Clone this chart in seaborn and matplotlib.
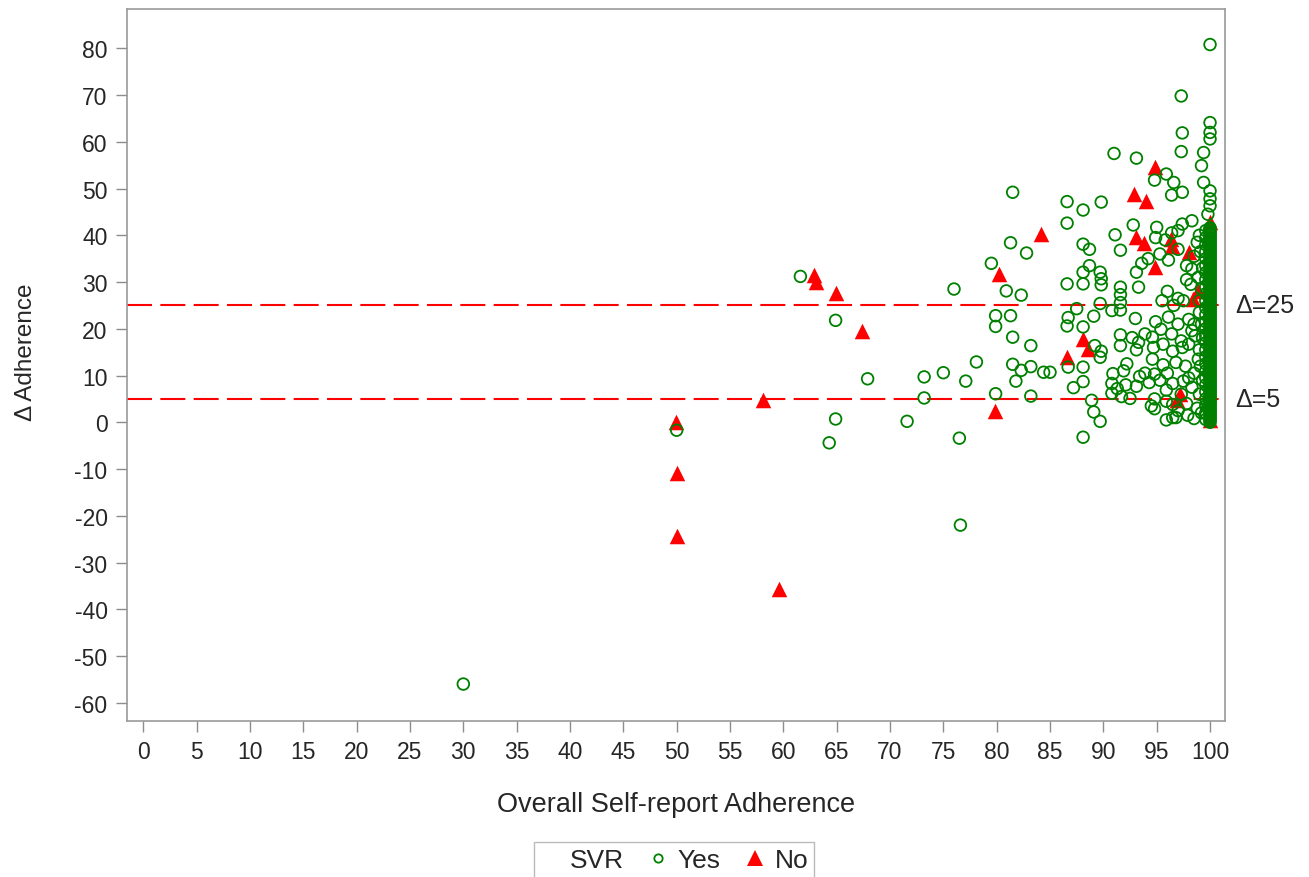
import matplotlib
matplotlib.use("Agg")
import pandas as pd
import seaborn as sns
import matplotlib.pyplot as plt
from matplotlib.lines import Line2D
from matplotlib.transforms import blended_transform_factory

GREEN = "#008000"
RED = "#ff0000"

# SVR = Yes (open circles)
yes_x = [30.0, 50.0, 61.6, 64.9, 64.9, 64.3, 67.9, 71.6, 73.2, 73.2, 75.0, 76.0,
         76.5, 76.6, 77.1, 78.1, 79.5, 80.9, 82.3, 79.9, 79.9, 81.3, 81.5, 83.2,
         81.5, 82.3, 83.2, 81.8, 84.4, 85.0, 79.9, 83.2, 81.5, 81.3, 82.8,
         86.6, 88.1, 89.8, 86.6, 91.0, 93.1, 92.8, 91.1, 88.1, 88.7, 91.6, 88.7,
         88.1, 89.7, 89.8, 93.1, 86.6, 88.1, 89.8, 91.6, 93.3, 91.6, 91.6, 91.6,
         87.5, 89.7, 86.7, 86.6, 89.1, 90.8, 88.1, 89.2, 89.8, 89.7, 91.6, 91.6,
         92.7, 93.3, 93.1, 86.7, 88.1, 87.2, 88.1, 88.9, 89.1, 89.7, 88.1, 92.2,
         90.8, 91.3, 92.1, 93.1, 91.7, 92.5, 90.8, 93.4, 90.9, 91.9,
         93.9, 94.3, 94.8, 95.3, 95.9, 96.5, 97.3, 95.9, 96.5, 94.8, 94.8, 94.5,
         95.9, 96.5, 97.0, 97.8, 98.3, 98.8, 98.5, 97.7, 96.8, 95.6, 94.6, 98.9,
         93.9, 94.6, 95.4, 96.4, 97.3, 94.7, 95.6, 96.5, 97.4, 98.0, 98.6, 99.0,
         98.5, 93.0, 94.9, 96.1, 97.0, 98.0, 98.3, 99.0, 96.0, 97.0, 95.5, 96.6,
         97.5, 98.2, 98.9, 97.8, 97.8, 98.3, 95.3, 96.1, 97.0, 94.9, 95.8, 96.4,
         97.0, 95.0, 97.4, 98.3, 98.8, 98.5, 99.0, 94.2, 93.6,
         99.2, 99.0, 99.3, 99.1, 99.3, 99.2, 99.0, 99.2, 99.3, 99.1, 98.0, 97.5,
         96.0, 97.9, 98.5, 96.8,
         95.9, 94.8, 96.6, 97.4, 96.4, 99.2, 99.4, 100.0, 100.0, 100.0, 99.4, 97.3,
         97.4, 97.3, 100.0, 100.0, 100.0, 100.0, 99.8]
yes_y = [-56.0, -1.7, 31.2, 21.8, 0.7, -4.4, 9.3, 0.2, 9.7, 5.2, 10.6, 28.5,
         -3.4, -22.0, 8.8, 12.9, 34.0, 28.1, 27.2, 22.8, 20.5, 22.8, 18.2, 16.4,
         12.4, 11.1, 11.9, 8.8, 10.7, 10.7, 6.1, 5.6, 49.2, 38.4, 36.2,
         47.2, 45.4, 47.1, 42.6, 57.5, 56.5, 42.2, 40.1, 38.1, 37.0, 36.8, 33.5,
         32.1, 32.1, 30.7, 32.1, 29.6, 29.6, 29.4, 28.9, 28.9, 27.3, 25.6, 24.0,
         24.3, 25.4, 22.4, 20.6, 22.7, 23.9, 20.4, 16.4, 15.2, 13.9, 18.7, 16.4,
         18.1, 17.1, 15.5, 11.8, 11.8, 7.4, 8.7, 4.7, 2.2, 0.2, -3.2, 12.5,
         8.3, 7.2, 8.0, 7.7, 5.5, 5.1, 6.2, 9.8, 10.4, 11.0,
         10.5, 8.5, 10.3, 9.0, 6.9, 8.3, 6.0, 4.5, 3.8, 5.0, 2.9, 3.5,
         0.5, 1.0, 2.5, 4.0, 7.5, 3.0, 10.5, 12.0, 12.8, 12.3, 13.5, 13.5,
         18.9, 18.2, 19.9, 18.9, 17.4, 16.0, 16.7, 15.2, 16.0, 16.7, 18.5, 15.5,
         21.0, 22.2, 21.5, 22.5, 21.0, 22.0, 19.6, 23.5, 28.0, 26.5, 26.0, 25.0,
         26.0, 29.5, 31.0, 30.5, 33.5, 32.8, 36.0, 34.7, 37.0, 39.5, 39.0, 40.5,
         41.0, 41.7, 42.4, 43.1, 38.5, 35.5, 40.0, 35.0, 34.0,
         2.0, 6.0, 9.0, 12.0, 18.0, 21.0, 26.0, 28.5, 33.0, 36.5, 9.5, 8.8,
         10.5, 1.5, 0.8, 1.0,
         53.1, 51.8, 51.3, 49.2, 48.6, 54.9, 51.3, 49.5, 47.8, 46.3, 57.7, 57.9,
         61.9, 69.8, 64.1, 62.0, 60.6, 80.8, 44.5]

# the solid stack of Yes patients at 100% self-report
col100_y = [0.0, 0.3, 0.7, 1.0, 1.4, 1.7, 2.1, 2.4, 2.8, 3.1, 3.5, 3.8, 4.2,
            4.5, 4.9, 5.2, 5.6, 5.9, 6.3, 6.6, 7.0, 7.3, 7.7, 8.0, 8.4, 8.7,
            9.1, 9.4, 9.8, 10.1, 10.5, 10.8, 11.2, 11.5, 11.9, 12.2, 12.6,
            12.9, 13.3, 13.6, 14.0, 14.3, 14.7, 15.0, 15.4, 15.7, 16.1, 16.4,
            16.8, 17.1, 17.5, 17.8, 18.2, 18.5, 18.9, 19.2, 19.6, 19.9, 20.3,
            20.6, 21.0, 21.3, 21.7, 22.0, 22.4, 22.7, 23.1, 23.4, 23.8, 24.1,
            24.5, 24.8, 25.2, 25.5, 25.9, 26.2, 26.6, 26.9, 27.3, 27.6, 28.0,
            28.3, 28.7, 29.0, 29.4, 29.7, 30.1, 30.4, 30.8, 31.1, 31.5, 31.8,
            32.2, 32.5, 32.9, 33.2, 33.6, 33.9, 34.3, 34.6, 35.0, 35.3, 35.7,
            36.0, 36.4, 36.7, 37.1, 37.4, 37.8, 38.1, 38.5, 38.8, 39.2, 39.5,
            39.9, 40.2, 40.6, 40.9, 41.3, 41.6]
col99_y = [0.6, 2.0, 3.5, 5.0, 6.5, 8.0, 9.5, 11.0, 12.5, 14.0, 15.5, 17.0,
           18.5, 20.0, 21.5, 23.0, 24.5, 26.0, 27.5, 29.0, 30.5, 32.0, 33.5,
           35.0, 36.5, 38.0, 39.5, 41.0]

# SVR = No (filled triangles)
no_x = [49.9, 50.0, 50.0, 58.1, 59.6, 62.9, 63.1, 64.9, 67.4, 79.8, 80.2, 84.2,
        86.6, 88.1, 88.6, 92.9, 94.0, 94.8, 93.1, 93.8, 96.3, 96.4, 98.0, 94.8,
        98.4, 98.9, 97.2, 96.9, 100.0, 100.0]
no_y = [0.0, -10.8, -24.4, 4.7, -35.6, 31.5, 30.0, 27.7, 19.6, 2.5, 31.7, 40.3,
        13.9, 17.8, 15.7, 48.8, 47.4, 54.5, 39.6, 38.3, 39.2, 37.8, 36.4, 33.2,
        26.4, 28.0, 6.1, 4.7, 42.8, 0.5]

ref_levels = [25, 5]
ref_labels = ["\u0394=25", "\u0394=5"]
x_ticks = list(range(0, 101, 5))
y_ticks = list(range(-60, 81, 10))

all_x = yes_x + [100.0] * len(col100_y) + [99.6] * len(col99_y) + no_x
all_y = yes_y + col100_y + col99_y + no_y
svr = ["Yes"] * (len(yes_x) + len(col100_y) + len(col99_y)) + ["No"] * len(no_x)
df = pd.DataFrame({"selfreport": all_x, "delta": all_y, "SVR": svr})

sns.set_theme(style="white")
plt.rcParams["font.family"] = ["Liberation Sans", "DejaVu Sans"]
plt.rcParams["axes.unicode_minus"] = False

fig = plt.figure(figsize=(13.09, 8.78), dpi=100)
ax = fig.add_axes([0.097, 0.1777, 0.8388, 0.8109])

for lvl in ref_levels:
    ax.axhline(lvl, color=RED, lw=1.5, dashes=(12, 4), zorder=2)

sns.scatterplot(data=df[df.SVR == "No"], x="selfreport", y="delta", ax=ax,
                marker="^", s=125, color=RED, edgecolor=RED, linewidth=0,
                zorder=3, legend=False)
sns.scatterplot(data=df[df.SVR == "Yes"], x="selfreport", y="delta", ax=ax,
                marker="o", s=70, facecolors="none", edgecolor=GREEN,
                linewidth=1.3, zorder=4, legend=False)

ax.set_xlim(-1.53, 101.4)
ax.set_ylim(-63.9, 88.4)
ax.set_xticks(x_ticks)
ax.set_yticks(y_ticks)

tc = "#262626"
ax.tick_params(axis="both", direction="out", length=8, width=1, color="#8c8c8c",
               labelsize=16.5, labelcolor=tc, pad=6, bottom=True, left=True)
for sp in ax.spines.values():
    sp.set_color("#9a9a9a")
    sp.set_linewidth(1.2)

ax.set_xlabel("Overall Self-report Adherence", fontsize=19.5, color=tc,
              labelpad=20)
ax.set_ylabel("\u0394 Adherence", fontsize=17.5, color=tc)
ax.yaxis.set_label_coords(-0.082, 0.52)

trans = blended_transform_factory(ax.transAxes, ax.transData)
for lvl, lab in zip(ref_levels, ref_labels):
    ax.text(1.009, lvl, lab, transform=trans, ha="left", va="center",
            fontsize=18, color=tc)

handles = [
    Line2D([], [], linestyle="none", marker=None),
    Line2D([], [], linestyle="none", marker="o", markersize=6,
           markerfacecolor="none", markeredgecolor=GREEN, markeredgewidth=1.3),
    Line2D([], [], linestyle="none", marker="^", markersize=11,
           markerfacecolor=RED, markeredgecolor=RED, markeredgewidth=0),
]
leg = fig.legend(handles, ["SVR", "Yes", "No"], ncol=3, loc="upper center",
                 bbox_to_anchor=(674 / 1309, 1 - 843 / 878), frameon=True,
                 fancybox=False, edgecolor="#aaaaaa", fontsize=19,
                 handlelength=0.8, handletextpad=0.35, columnspacing=0.9,
                 borderpad=0.22, borderaxespad=0)
leg.get_frame().set_linewidth(1.0)
for t in leg.get_texts():
    t.set_color(tc)

fig.savefig("out.png", dpi=100)
